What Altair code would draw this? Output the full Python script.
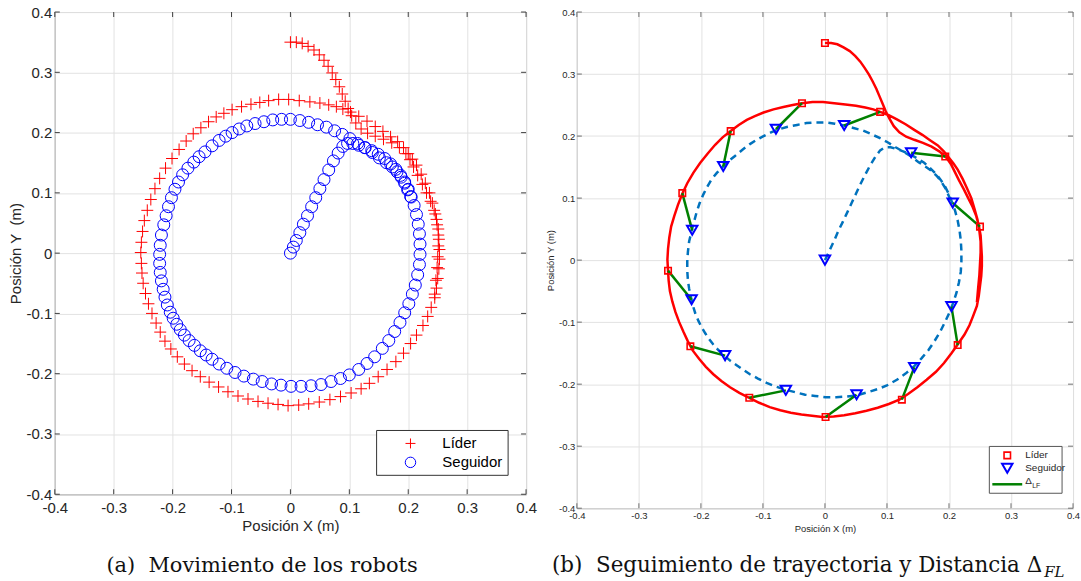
import altair as alt
import pandas as pd

# ---------------------------------------------------------------- data (m)
# Leader (Líder) trajectory, in time order
lider_x = [0.000, 0.010, 0.020, 0.030, 0.040, 0.049, 0.057, 0.064, 0.071, 0.077,
           0.083, 0.088, 0.093, 0.098, 0.104, 0.111, 0.120, 0.131, 0.144, 0.158,
           0.172, 0.185, 0.196, 0.203, 0.209, 0.216, 0.224, 0.231, 0.238, 0.244,
           0.248, 0.251, 0.252, 0.253, 0.253, 0.252, 0.250, 0.248, 0.245, 0.239,
           0.233, 0.225, 0.214, 0.204, 0.192, 0.179, 0.164, 0.149, 0.134, 0.120,
           0.103, 0.085, 0.067, 0.049, 0.031, 0.014, -0.004, -0.021, -0.038, -0.055,
           -0.072, -0.089, -0.106, -0.122, -0.138, -0.153, -0.167, -0.180, -0.192, -0.203,
           -0.213, -0.221, -0.228, -0.235, -0.241, -0.246, -0.250, -0.252, -0.253, -0.254,
           -0.253, -0.251, -0.248, -0.243, -0.237, -0.230, -0.222, -0.212, -0.201, -0.189,
           -0.177, -0.165, -0.152, -0.139, -0.126, -0.113, -0.099, -0.083, -0.067, -0.052,
           -0.037, -0.020, -0.003, 0.015, 0.033, 0.050, 0.065, 0.078, 0.089, 0.102,
           0.116, 0.130, 0.144, 0.157, 0.170, 0.182, 0.192, 0.200, 0.207, 0.214,
           0.222, 0.229, 0.236, 0.241, 0.246, 0.249, 0.251, 0.251, 0.250, 0.249,
           0.247, 0.245]
lider_y = [0.350, 0.350, 0.348, 0.343, 0.337, 0.329, 0.320, 0.310, 0.299, 0.288,
           0.276, 0.264, 0.252, 0.240, 0.228, 0.216, 0.206, 0.199, 0.194, 0.189,
           0.183, 0.175, 0.165, 0.155, 0.143, 0.129, 0.114, 0.100, 0.086, 0.071,
           0.056, 0.040, 0.023, 0.006, -0.010, -0.026, -0.042, -0.058, -0.074, -0.090,
           -0.105, -0.120, -0.136, -0.150, -0.166, -0.180, -0.193, -0.205, -0.216, -0.225,
           -0.232, -0.238, -0.243, -0.247, -0.250, -0.252, -0.253, -0.251, -0.249, -0.246,
           -0.242, -0.237, -0.230, -0.222, -0.214, -0.205, -0.195, -0.184, -0.172, -0.159,
           -0.146, -0.131, -0.116, -0.100, -0.084, -0.067, -0.050, -0.033, -0.017, 0.001,
           0.018, 0.036, 0.054, 0.071, 0.089, 0.107, 0.124, 0.141, 0.157, 0.172,
           0.186, 0.198, 0.208, 0.218, 0.226, 0.232, 0.238, 0.243, 0.247, 0.250,
           0.253, 0.255, 0.255, 0.253, 0.251, 0.249, 0.246, 0.243, 0.239, 0.234,
           0.227, 0.219, 0.210, 0.202, 0.193, 0.185, 0.175, 0.165, 0.156, 0.146,
           0.131, 0.116, 0.100, 0.083, 0.065, 0.047, 0.030, 0.012, -0.006, -0.024,
           -0.045, -0.068]

# Follower (Seguidor) trajectory, in time order
seguidor_x = [0.000, 0.005, 0.010, 0.016, 0.022, 0.029, 0.036, 0.043, 0.050, 0.057,
              0.065, 0.073, 0.081, 0.089, 0.097, 0.106, 0.116, 0.127, 0.138, 0.149,
              0.160, 0.170, 0.179, 0.187, 0.194, 0.200, 0.205, 0.210, 0.214, 0.217,
              0.219, 0.220, 0.220, 0.219, 0.216, 0.212, 0.207, 0.201, 0.194, 0.186,
              0.177, 0.167, 0.156, 0.143, 0.130, 0.116, 0.100, 0.085, 0.069, 0.052,
              0.035, 0.018, 0.001, -0.016, -0.032, -0.048, -0.063, -0.079, -0.094, -0.108,
              -0.121, -0.133, -0.143, -0.153, -0.163, -0.172, -0.180, -0.187, -0.193, -0.199,
              -0.204, -0.209, -0.213, -0.216, -0.219, -0.221, -0.222, -0.222, -0.221, -0.219,
              -0.215, -0.211, -0.207, -0.202, -0.196, -0.190, -0.183, -0.174, -0.164, -0.155,
              -0.145, -0.133, -0.121, -0.110, -0.099, -0.087, -0.074, -0.060, -0.045, -0.030,
              -0.015, 0.000, 0.016, 0.031, 0.046, 0.061, 0.075, 0.088, 0.101, 0.114,
              0.126, 0.139, 0.151, 0.163, 0.173, 0.181, 0.188, 0.194, 0.199, 0.204]
seguidor_y = [0.000, 0.010, 0.021, 0.034, 0.048, 0.062, 0.077, 0.092, 0.107, 0.122,
              0.138, 0.153, 0.166, 0.177, 0.182, 0.182, 0.179, 0.175, 0.170, 0.164,
              0.157, 0.148, 0.139, 0.129, 0.118, 0.106, 0.093, 0.079, 0.064, 0.048,
              0.032, 0.015, -0.002, -0.019, -0.036, -0.053, -0.068, -0.084, -0.099, -0.115,
              -0.130, -0.145, -0.158, -0.172, -0.183, -0.193, -0.202, -0.208, -0.213, -0.218,
              -0.220, -0.221, -0.221, -0.219, -0.217, -0.213, -0.209, -0.204, -0.198, -0.191,
              -0.184, -0.176, -0.169, -0.162, -0.153, -0.145, -0.136, -0.127, -0.118, -0.108,
              -0.098, -0.086, -0.073, -0.060, -0.046, -0.032, -0.017, -0.002, 0.013, 0.030,
              0.047, 0.062, 0.077, 0.092, 0.106, 0.118, 0.130, 0.141, 0.151, 0.160,
              0.168, 0.178, 0.187, 0.194, 0.200, 0.206, 0.211, 0.215, 0.218, 0.221,
              0.222, 0.222, 0.220, 0.217, 0.213, 0.209, 0.203, 0.197, 0.190, 0.182,
              0.175, 0.167, 0.158, 0.150, 0.143, 0.135, 0.126, 0.116, 0.105, 0.094]

# Sampled instants in panel (b): leader / follower positions
muestra_lider_x = [0.000, -0.037, 0.089, -0.152, 0.194, -0.230, 0.250, -0.253, 0.214, -0.217, -0.122, 0.124, 0.001]
muestra_lider_y = [0.350, 0.253, 0.239, 0.208, 0.167, 0.108, 0.054, -0.017, -0.137, -0.139, -0.222, -0.225, -0.253]
muestra_seg_x = [0.000, -0.079, 0.031, -0.164, 0.139, -0.214, 0.206, -0.215, 0.204, -0.161, -0.063, 0.144, 0.051]
muestra_seg_y = [0.000, 0.211, 0.217, 0.151, 0.173, 0.048, 0.092, -0.064, -0.075, -0.154, -0.210, -0.173, -0.217]

ticks = [-0.4, -0.3, -0.2, -0.1, 0.0, 0.1, 0.2, 0.3, 0.4]
serie_nombres = ["Líder", "Seguidor"]
dist_nombre = ("Δ", "LF")
titulo_x = "Posición X (m)"
titulo_y_a = "Posición Y\u00a0 (m)"
titulo_y_b = "Posición Y (m)"
caption_a = "(a)\u00a0 Movimiento de los robots"
caption_b = ("(b)\u00a0 Seguimiento de trayectoria y Distancia Δ", "FL")

# ---------------------------------------------------------------- tables
df_lider = pd.DataFrame({"x": lider_x, "y": lider_y, "i": list(range(len(lider_x)))})
df_seg = pd.DataFrame({"x": seguidor_x, "y": seguidor_y, "i": list(range(len(seguidor_x)))})
df_ml = pd.DataFrame({"x": muestra_lider_x, "y": muestra_lider_y})
df_ms = pd.DataFrame({"x": muestra_seg_x, "y": muestra_seg_y})
df_pairs = pd.DataFrame({"x": muestra_lider_x[1:], "y": muestra_lider_y[1:],
                         "x2": muestra_seg_x[1:], "y2": muestra_seg_y[1:]})
df_ticks = pd.DataFrame({"x": ticks, "y": ticks})
uno = pd.DataFrame({"k": [0]})

RED, BLUE, GREEN, DASHBLUE = "#ff0000", "#0000ff", "#008000", "#0072bd"
TXT = "#262626"
SANS = "Liberation Sans"
NARROW = "Liberation Sans Narrow, Liberation Sans"
SERIF = "DejaVu Serif"
PLUS = "M-1,0H1M0,-1V1"
LABEL_EXPR = "toString(round(datum.value*10)/10)"

SC = alt.Scale(domain=[-0.4, 0.4], nice=False, zero=False)


def make_axis(title, font, size, lpad, tpad):
    return alt.Axis(values=ticks, labelExpr=LABEL_EXPR, grid=True, gridColor="#e2e2e2",
                    gridWidth=1, domain=False, ticks=False, labelFlush=False,
                    labelOverlap=False, labelFont=font, labelFontSize=size,
                    labelColor=TXT, labelPadding=lpad, title=title, titleFont=font,
                    titleFontSize=size, titleFontWeight="normal", titleColor=TXT,
                    titlePadding=tpad)


def inner_ticks(xenc, yenc, w, h, color, length=5):
    """Inward tick marks on the four sides of the box."""
    base = alt.Chart(df_ticks)
    half = length / 2
    out = []
    for ypos in (half, h - half):
        out.append(base.mark_tick(orient="vertical", size=length, thickness=1,
                                  color=color, opacity=1).encode(x=xenc, y=alt.value(ypos)))
    for xpos in (half, w - half):
        out.append(base.mark_tick(orient="horizontal", size=length, thickness=1,
                                  color=color, opacity=1).encode(y=yenc, x=alt.value(xpos)))
    return out


# ---------------------------------------------------------------- panel (a)
WA, HA = 473, 484
ax_x = alt.X("x:Q", scale=SC, axis=make_axis(titulo_x, SANS, 15, 6, 3))
ax_y = alt.Y("y:Q", scale=SC, axis=make_axis(titulo_y_a, SANS, 15, 3, 3))

a_lider = alt.Chart(df_lider).mark_point(
    shape=PLUS, filled=False, color=RED, size=144, strokeWidth=1, opacity=1
).encode(x=ax_x, y=ax_y)
a_seg = alt.Chart(df_seg).mark_point(
    shape="circle", filled=False, color=BLUE, size=144, strokeWidth=1, opacity=1
).encode(x=ax_x, y=ax_y)

a_box = alt.Chart(uno).mark_rect(fill="white", stroke="#333333", strokeWidth=1).encode(
    x=alt.value(323), x2=alt.value(455), y=alt.value(420), y2=alt.value(465))
a_sym1 = alt.Chart(uno).mark_point(shape=PLUS, filled=False, color=RED, size=100,
                                   strokeWidth=1, opacity=1).encode(
    x=alt.value(357), y=alt.value(433))
a_sym2 = alt.Chart(uno).mark_point(shape="circle", filled=False, color=BLUE, size=110,
                                   strokeWidth=1, opacity=1).encode(
    x=alt.value(357), y=alt.value(452))
a_lab1 = alt.Chart(uno).mark_text(align="left", baseline="middle", font=SANS,
                                  fontSize=15, color="#000000").encode(
    x=alt.value(389), y=alt.value(433), text=alt.value(serie_nombres[0]))
a_lab2 = alt.Chart(uno).mark_text(align="left", baseline="middle", font=SANS,
                                  fontSize=15, color="#000000").encode(
    x=alt.value(389), y=alt.value(452), text=alt.value(serie_nombres[1]))
a_cap = alt.Chart(uno).mark_text(align="center", baseline="alphabetic", font=SERIF,
                                 fontSize=21, color="#111111").encode(
    x=alt.value(208), y=alt.value(562), text=alt.value(caption_a))

panel_a = alt.layer(
    *inner_ticks(ax_x, ax_y, WA, HA, "#404040"),
    a_lider, a_seg, a_box, a_sym1, a_sym2, a_lab1, a_lab2, a_cap
).properties(width=WA, height=HA, view=alt.ViewBackground(stroke="#404040", strokeWidth=1))

# ---------------------------------------------------------------- panel (b)
WB, HB = 498, 498
bx = alt.X("x:Q", scale=SC, axis=make_axis(titulo_x, NARROW, 9.5, 2, 4))
by = alt.Y("y:Q", scale=SC, axis=make_axis(titulo_y_b, NARROW, 9.5, 2, 3))

b_line_l = alt.Chart(df_lider).mark_line(color=RED, strokeWidth=2.5).encode(
    x=bx, y=by, order="i:Q")
b_line_f = alt.Chart(df_seg).mark_line(color=DASHBLUE, strokeWidth=2.5,
                                       strokeDash=[7, 5]).encode(x=bx, y=by, order="i:Q")
b_rules = alt.Chart(df_pairs).mark_rule(color=GREEN, strokeWidth=2.5).encode(
    x=bx, y=by, x2="x2:Q", y2="y2:Q")
b_sq = alt.Chart(df_ml).mark_point(shape="square", filled=False, color=RED, size=42,
                                   strokeWidth=1.6, opacity=1).encode(x=bx, y=by)
b_tri = alt.Chart(df_ms).mark_point(shape="triangle-down", filled=False, color=BLUE,
                                    size=110, strokeWidth=2, opacity=1).encode(x=bx, y=by)

b_box = alt.Chart(uno).mark_rect(fill="white", stroke="#555555", strokeWidth=1).encode(
    x=alt.value(414), x2=alt.value(487), y=alt.value(436), y2=alt.value(483))
b_sym1 = alt.Chart(uno).mark_point(shape="square", filled=False, color=RED, size=42,
                                   strokeWidth=1.6, opacity=1).encode(
    x=alt.value(432), y=alt.value(445))
b_sym2 = alt.Chart(uno).mark_point(shape="triangle-down", filled=False, color=BLUE,
                                   size=110, strokeWidth=2, opacity=1).encode(
    x=alt.value(432), y=alt.value(458))
b_sym3 = alt.Chart(uno).mark_rule(color=GREEN, strokeWidth=2.5).encode(
    x=alt.value(417), x2=alt.value(447), y=alt.value(474))
b_lab1 = alt.Chart(uno).mark_text(align="left", baseline="middle", font=NARROW,
                                  fontSize=10, color=TXT).encode(
    x=alt.value(450), y=alt.value(445), text=alt.value(serie_nombres[0]))
b_lab2 = alt.Chart(uno).mark_text(align="left", baseline="middle", font=NARROW,
                                  fontSize=10, color=TXT).encode(
    x=alt.value(450), y=alt.value(458), text=alt.value(serie_nombres[1]))
b_lab3 = alt.Chart(uno).mark_text(align="left", baseline="middle", font=NARROW,
                                  fontSize=10, color=TXT).encode(
    x=alt.value(450), y=alt.value(471), text=alt.value(dist_nombre[0]))
b_lab3s = alt.Chart(uno).mark_text(align="left", baseline="middle", font=NARROW,
                                   fontSize=7, color=TXT).encode(
    x=alt.value(457), y=alt.value(476), text=alt.value(dist_nombre[1]))
b_cap = alt.Chart(uno).mark_text(align="right", baseline="alphabetic", font=SERIF,
                                 fontSize=21.5, color="#111111").encode(
    x=alt.value(467), y=alt.value(562), text=alt.value(caption_b[0]))
b_cap_sub = alt.Chart(uno).mark_text(align="left", baseline="alphabetic", font=SERIF,
                                     fontSize=15, fontStyle="italic", color="#111111").encode(
    x=alt.value(469), y=alt.value(567), text=alt.value(caption_b[1]))

panel_b = alt.layer(
    *inner_ticks(bx, by, WB, HB, "#707070"),
    b_line_l, b_line_f, b_rules, b_sq, b_tri, b_box, b_sym1, b_sym2,
    b_sym3, b_lab1, b_lab2, b_lab3, b_lab3s, b_cap, b_cap_sub
).properties(width=WB, height=HB, view=alt.ViewBackground(stroke="#707070", strokeWidth=1))

chart = alt.hconcat(panel_a, panel_b, spacing=51, bounds="flush").resolve_scale(
    x="independent", y="independent"
).properties(
    padding={"left": 7, "top": 3, "right": 0, "bottom": 0}, background="white"
)

chart.save("out.html", embed_options={"renderer": "svg", "actions": False})
